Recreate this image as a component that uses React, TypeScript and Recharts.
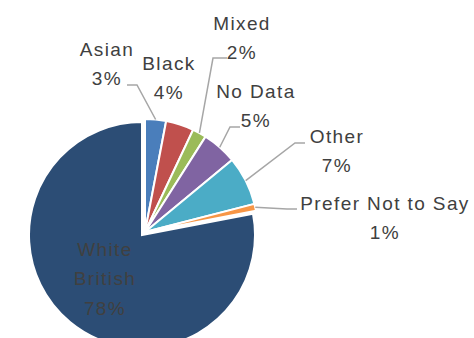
import { PieChart, Pie, Cell } from 'recharts'

const categories = ['Asian', 'Black', 'Mixed', 'No Data', 'Other', 'Prefer Not to Say', 'White British']
const shares = [3, 4, 2, 5, 7, 1, 78]
const colors = ['#4A7EBB', '#C0504D', '#9BBB59', '#8064A2', '#4BACC6', '#F79646', '#2C4D75']

const rows = categories.map((name, i) => ({ name, value: shares[i], color: colors[i] }))
const minorRows = rows.slice(0, 6)
const majorRows = rows.slice(6)
const total = shares.reduce((a, b) => a + b, 0)
const minorSweep = (360 * minorRows.reduce((a, r) => a + r.value, 0)) / total

// label text blocks and leader line bends, laid out like the original
const LABELS: Record<string, { x: number; y: number; lines: string[]; end?: [number, number]; elbow?: [number, number] }> = {
  Asian: { x: 107, y: 49, lines: ['Asian'], end: [127, 85], elbow: [137, 85] },
  Black: { x: 169, y: 63, lines: ['Black'] },
  Mixed: { x: 242, y: 23, lines: ['Mixed'], end: [227, 58], elbow: [213, 58] },
  'No Data': { x: 256, y: 91, lines: ['No Data'], end: [240, 127], elbow: [230, 127] },
  Other: { x: 337, y: 136, lines: ['Other'], end: [305, 143], elbow: [295, 143] },
  'Prefer Not to Say': { x: 385, y: 203, lines: ['Prefer Not to Say'], end: [297, 209], elbow: [287, 209] },
  'White British': { x: 105, y: 249, lines: ['White', 'British'] },
}

const FONT = '"Liberation Sans", Arial, sans-serif'
const TEXT = '#404040'
const RAD = Math.PI / 180

function renderLabel(props: any) {
  const { cx, cy, midAngle, outerRadius, name, value } = props
  const lay = LABELS[name]
  if (!lay) return null
  const pct = `${Math.round((value / total) * 100)}%`
  const lines = [...lay.lines, pct]
  let line = null
  if (lay.end && lay.elbow) {
    const sx = cx + outerRadius * Math.cos(-midAngle * RAD)
    const sy = cy + outerRadius * Math.sin(-midAngle * RAD)
    line = (
      <polyline
        points={`${sx},${sy} ${lay.elbow[0]},${lay.elbow[1]} ${lay.end[0]},${lay.end[1]}`}
        fill="none"
        stroke="#A6A6A6"
        strokeWidth={1.5}
      />
    )
  }
  return (
    <g key={name}>
      {line}
      {lines.map((t, i) => (
        <text
          key={i}
          x={lay.x}
          y={lay.y + i * 29.5}
          textAnchor="middle"
          dominantBaseline="central"
          fontFamily={FONT}
          fontSize={19}
          letterSpacing={1.4}
          fill={TEXT}
        >
          {t}
        </text>
      ))}
    </g>
  )
}

export default function App() {
  return (
    <div style={{ position: 'absolute', left: 0, top: 0, background: '#fff' }}>
      <PieChart width={474} height={338}>
        <Pie
          data={majorRows}
          dataKey="value"
          nameKey="name"
          cx={137}
          cy={230}
          outerRadius={113}
          startAngle={90 - minorSweep}
          endAngle={-270}
          stroke="#fff"
          strokeWidth={2}
          label={renderLabel}
          labelLine={false}
          isAnimationActive={false}
        >
          {majorRows.map((r) => (
            <Cell key={r.name} fill={r.color} />
          ))}
        </Pie>
        <Pie
          data={minorRows}
          dataKey="value"
          nameKey="name"
          cx={140}
          cy={227}
          outerRadius={113}
          startAngle={90}
          endAngle={90 - minorSweep}
          stroke="#fff"
          strokeWidth={2}
          label={renderLabel}
          labelLine={false}
          isAnimationActive={false}
        >
          {minorRows.map((r) => (
            <Cell key={r.name} fill={r.color} />
          ))}
        </Pie>
      </PieChart>
    </div>
  )
}
